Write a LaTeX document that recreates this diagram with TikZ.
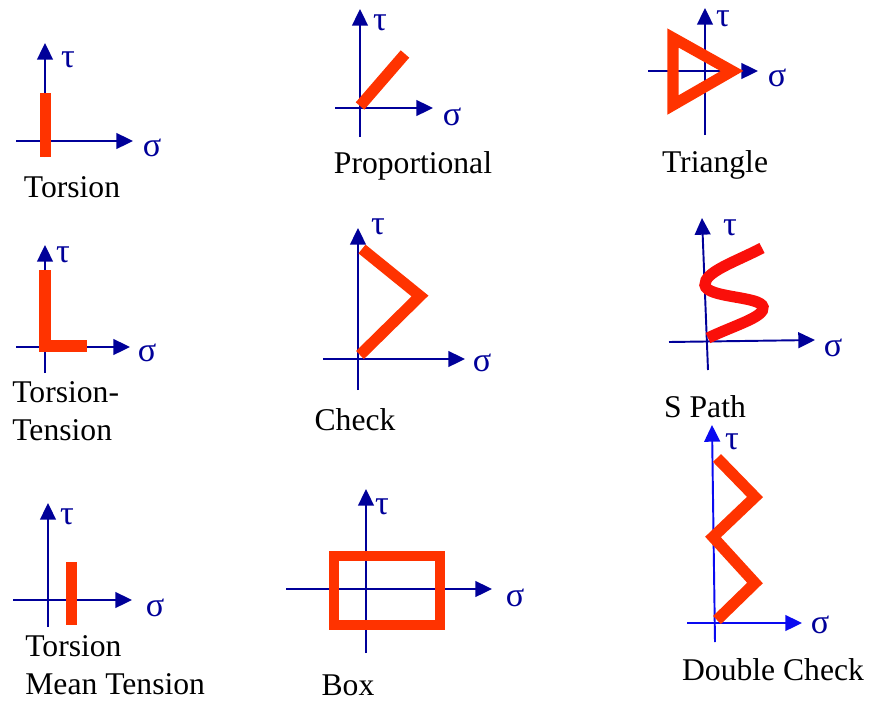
\documentclass[tikz,border=0pt]{standalone}
\usepackage{fontspec}
\setmainfont{Liberation Serif}
\usetikzlibrary{arrows.meta}
\definecolor{axisblue}{RGB}{0,0,153}
\definecolor{brightblue}{RGB}{10,10,240}
\definecolor{loadred}{RGB}{255,51,0}
\definecolor{sred}{RGB}{250,15,10}

\begin{document}
\begin{tikzpicture}[x=0.02cm,y=-0.02cm,
    axis/.style={axisblue,line width=1.1pt,-{Triangle[length=9.5pt,width=9pt]}},
    loadpath/.style={loadred,line width=6.4pt,line join=miter},
    sym/.style={axisblue,inner sep=0pt,font=\fontsize{19.5}{22}\selectfont},
    caption/.style={inner sep=0pt,align=left,font=\fontsize{18}{21.5}\selectfont}]
  \useasboundingbox (0,0) rectangle (869,700);

  \draw[axis] (45,157) -- (45,43);
  \draw[axis] (16,141) -- (133,141);
  \draw[loadpath] (45.5,93) -- (45.5,157);
  \node[sym] (tau1) at (68,60) {τ};
  \node[sym] (sig1) at (152,148) {σ};
  \node[caption] (torsion) at (72,187) {Torsion};

  \draw[axis] (360,137) -- (360,9);
  \draw[axis] (335,108) -- (433,108);
  \draw[loadpath] (360,106) -- (405,54);
  \node[sym] (tau2) at (380,23) {τ};
  \node[sym] (sig2) at (452,117) {σ};
  \node[caption] (prop) at (413,166) {Proportional};

  \draw[axis] (705,135) -- (705,8);
  \draw[axis] (648,71) -- (758,71);
  \draw[loadpath] (673,38) -- (732,71) -- (673,105) -- cycle;
  \node[sym] (tau3) at (723,19) {τ};
  \node[sym] (sig3) at (777,78) {σ};
  \node[caption] (triangle) at (715,165) {Triangle};

  \draw[axis] (45,373) -- (45,245);
  \draw[axis] (16,347) -- (130,347);
  \draw[loadpath] (45,270) -- (45,346) -- (87,346);
  \node[sym] (tau4) at (63,255) {τ};
  \node[sym] (sig4) at (147,353) {σ};
  \node[caption,anchor=west] (torstens) at (12,411) {Torsion-\\Tension};

  \draw[axis] (358,390) -- (358,228);
  \draw[axis] (323,359) -- (465,359);
  \draw[loadpath] (360,355) -- (420,296) -- (362,249);
  \node[sym] (tau5) at (378,227) {τ};
  \node[sym] (sig5) at (482,363) {σ};
  \node[caption] (check) at (355,420) {Check};

  \draw[axis] (708,370) -- (702,218);
  \draw[axis] (669,342) -- (815,340);
  \draw[sred,line width=6.4pt]
    (708,338) .. controls (735,325) and (765,317) .. (763,307)
              .. controls (761,296) and (706,298) .. (705,285)
              .. controls (704,272) and (735,262) .. (762,248);
  \node[sym] (tau6) at (730,228) {τ};
  \node[sym] (sig6) at (833,348) {σ};
  \node[caption] (spath) at (705,407) {S Path};

  \draw[axis] (48,627) -- (48,503);
  \draw[axis] (13,600) -- (132,600);
  \draw[loadpath] (71.5,562) -- (71.5,625);
  \node[sym] (tau7) at (67,517) {τ};
  \node[sym] (sig7) at (155,608) {σ};
  \node[caption,anchor=west] (meantens) at (25,665) {Torsion\\Mean Tension};

  \draw[axis] (366,653) -- (366,489);
  \draw[axis] (286,589) -- (492,589);
  \draw[loadpath,line width=5.8pt] (334,556) rectangle (440,625);
  \node[sym] (tau8) at (382,507) {τ};
  \node[sym] (sig8) at (515,598) {σ};
  \node[caption] (box) at (348,685) {Box};

  \draw[axis,brightblue] (715,642) -- (712,425);
  \draw[axis,brightblue] (687,623) -- (802,623);
  \draw[loadpath] (717,620) -- (755,583) -- (713,537) -- (755,497) -- (717,458);
  \node[sym] (tau9) at (732,442) {τ};
  \node[sym] (sig9) at (820,625) {σ};
  \node[caption] (dblcheck) at (773,670) {Double Check};
\end{tikzpicture}
\end{document}
